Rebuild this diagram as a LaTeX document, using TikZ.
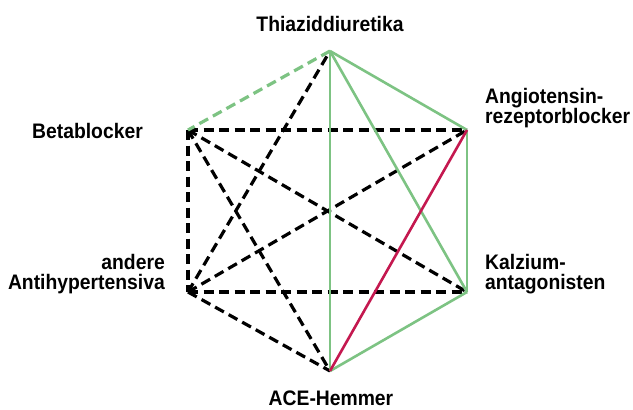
\documentclass[tikz,border=0pt]{standalone}
\usepackage{fontspec}
\setmainfont{Liberation Sans}[FakeStretch=0.92]
\definecolor{lgreen}{HTML}{7DC383}
\definecolor{dred}{HTML}{C4184F}
\begin{document}
\begin{tikzpicture}[x=1pt,y=-1pt,
  lbl/.style={font=\fontsize{21}{20}\selectfont\bfseries, inner sep=0pt},
  bd/.style={black, line width=3.2pt, dash pattern=on 10pt off 5.5pt},
  gd/.style={lgreen, line width=3.2pt, dash pattern=on 10pt off 5.5pt},
  gs/.style={lgreen, line width=2.6pt},
  rs/.style={dred, line width=2.6pt}]
\useasboundingbox (0,0) rectangle (633,410);
\coordinate (T) at (330,51);
\coordinate (B) at (188,130);
\coordinate (A) at (467,130);
\coordinate (K) at (467,292);
\coordinate (E) at (330,371);
\coordinate (O) at (188,292);
% black dashed
\draw[bd] (B) -- (A);
\draw[bd] (B) -- (O);
\draw[bd] (B) -- (K);
\draw[bd] (B) -- (E);
\draw[bd] (O) -- (T);
\draw[bd] (O) -- (A);
\draw[bd] (O) -- (K);
\draw[bd] (O) -- (E);
% green
\draw[gd] (T) -- (B);
\draw[gs] (T) -- (E);
\draw[gs] (T) -- (A);
\draw[gs] (T) -- (K);
\draw[gs] (A) -- (K);
\draw[gs] (K) -- (E);
% red
\draw[rs] (A) -- (E);
% labels
\node[lbl, anchor=base] (tl) at (330,31) {Thiaziddiuretika};
\node[lbl, anchor=base east] (bl) at (143,138) {Betablocker};
\node[lbl, anchor=base west, align=left] (al) at (485,123) {Angiotensin-\\rezeptorblocker};
\node[lbl, anchor=base west, align=left] (kl) at (485,289) {Kalzium-\\antagonisten};
\node[lbl, anchor=base east, align=right] (ol) at (165,289) {andere\\Antihypertensiva};
\node[lbl, anchor=base] (el) at (331,405) {ACE-Hemmer};
\end{tikzpicture}
\end{document}
